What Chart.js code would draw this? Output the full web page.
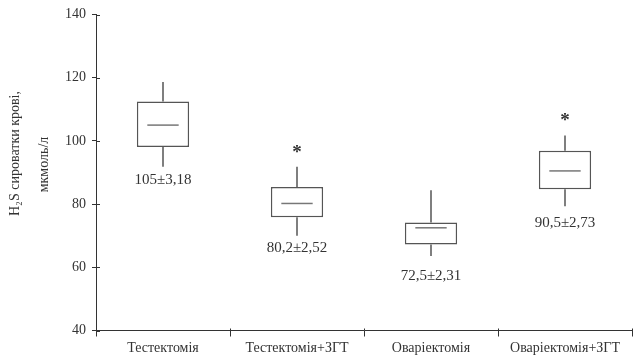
<!DOCTYPE html>
<html>
<head>
<meta charset="utf-8">
<script src="https://cdn.jsdelivr.net/npm/chart.js@4.4.1/dist/chart.umd.min.js"></script>
<style>
  html, body { margin: 0; padding: 0; background: #fff; }
  #wrap { width: 636px; height: 356px; }
</style>
</head>
<body>
<div id="wrap"><canvas id="c" width="636" height="356"></canvas></div>
<script>
// Group names
const categories = ['Тестектомія', 'Тестектомія+ЗГТ', 'Оваріектомія', 'Оваріектомія+ЗГТ'];
// Box statistics, мкмоль/л
const whiskerLow  = [91.8, 70.0, 63.6, 79.3];
const boxLow      = [98.1, 75.8, 67.2, 84.7];
const means       = [105, 80.2, 72.5, 90.5];
const boxHigh     = [112.5, 85.4, 74.2, 96.9];
const whiskerHigh = [118.6, 91.8, 84.4, 101.7];
const sem         = [3.18, 2.52, 2.31, 2.73];
// Groups marked with an asterisk
const significant = [false, true, false, true];
// Y axis ticks and title lines
const yTicks = [40, 60, 80, 100, 120, 140];
const yTitle = ['H₂S сироватки крові,', 'мкмоль/л'];

const FONT = '"Liberation Serif", "DejaVu Serif", serif';
const INK = '#333';
const BOX = '#555';

const fmt = v => String(v).replace('.', ',');
const meanLabels = means.map((m, i) => fmt(m) + '±' + fmt(sem[i]));
// Gap (px) between lower whisker end and the value label
const labelGap = [13, 12, 20, 17];

const boxPlugin = {
  id: 'boxParts',
  afterDatasetsDraw(chart) {
    const ctx = chart.ctx;
    const y = chart.scales.y;
    const meta = chart.getDatasetMeta(0);
    ctx.save();
    meta.data.forEach((bar, i) => {
      const x = bar.x;
      const w = bar.width;
      ctx.strokeStyle = BOX;
      ctx.lineWidth = 1.5;
      ctx.beginPath();
      ctx.moveTo(x, y.getPixelForValue(boxHigh[i]));
      ctx.lineTo(x, y.getPixelForValue(whiskerHigh[i]));
      ctx.moveTo(x, y.getPixelForValue(boxLow[i]));
      ctx.lineTo(x, y.getPixelForValue(whiskerLow[i]));
      ctx.stroke();
      // centre line at the mean
      ctx.strokeStyle = '#777';
      ctx.beginPath();
      const ym = y.getPixelForValue(means[i]);
      ctx.moveTo(x - w * 0.3, ym);
      ctx.lineTo(x + w * 0.3, ym);
      ctx.stroke();
      // value label
      ctx.fillStyle = INK;
      ctx.font = '15px ' + FONT;
      ctx.textAlign = 'center';
      ctx.textBaseline = 'middle';
      ctx.fillText(meanLabels[i], x, y.getPixelForValue(whiskerLow[i]) + labelGap[i]);
      if (significant[i]) {
        ctx.font = 'bold 19px ' + FONT;
        ctx.fillText('*', x, y.getPixelForValue(whiskerHigh[i]) - 14);
      }
    });
    // y tick marks crossing the axis
    const left = chart.chartArea.left;
    ctx.strokeStyle = INK;
    ctx.lineWidth = 1;
    ctx.beginPath();
    yTicks.forEach(t => {
      const py = Math.round(y.getPixelForValue(t)) + 0.5;
      ctx.moveTo(left, py);
      ctx.lineTo(left + 4, py);
    });
    // x tick marks reaching slightly above the axis
    const xs = chart.scales.x;
    const bottom = chart.chartArea.bottom;
    for (let k = 0; k <= categories.length; k++) {
      const px = Math.round(xs.left + (xs.right - xs.left) * k / categories.length) + 0.5;
      ctx.moveTo(px, bottom);
      ctx.lineTo(px, bottom - 2);
    }
    ctx.stroke();
    // rotated y axis title, two lines
    const midY = (chart.chartArea.top + chart.chartArea.bottom) / 2;
    ctx.fillStyle = INK;
    ctx.font = '14px ' + FONT;
    ctx.textAlign = 'center';
    ctx.textBaseline = 'middle';
    [[15, midY - 19], [44, midY - 8]].forEach((p, k) => {
      ctx.save();
      ctx.translate(p[0], p[1]);
      ctx.rotate(-Math.PI / 2);
      ctx.fillText(yTitle[k], 0, 0);
      ctx.restore();
    });
    ctx.restore();
  }
};

new Chart(document.getElementById('c'), {
  type: 'bar',
  data: {
    labels: categories,
    datasets: [{
      data: boxLow.map((lo, i) => [lo, boxHigh[i]]),
      backgroundColor: '#fff',
      borderColor: BOX,
      borderWidth: 1.5,
      borderSkipped: false,
      barPercentage: 0.39,
      categoryPercentage: 1
    }]
  },
  options: {
    responsive: false,
    animation: false,
    layout: { padding: { top: 14.5, right: 4, bottom: 0, left: 0 } },
    plugins: { legend: { display: false }, tooltip: { enabled: false } },
    scales: {
      x: {
        afterFit(scale) { scale.height = 25.5; },
        grid: { drawOnChartArea: false, drawTicks: true, tickLength: 6, color: INK, offset: true },
        border: { display: true, color: INK, width: 1 },
        ticks: { color: INK, font: { family: FONT, size: 14 }, padding: 3, maxRotation: 0 }
      },
      y: {
        min: 40,
        max: 140,
        afterBuildTicks(scale) { scale.ticks = yTicks.map(v => ({ value: v })); },
        afterFit(scale) { scale.width = 96; },
        grid: { drawOnChartArea: false, drawTicks: true, tickLength: 4, color: INK },
        border: { display: true, color: INK, width: 1 },
        ticks: { color: INK, font: { family: FONT, size: 14 }, padding: 6 }
      }
    }
  },
  plugins: [boxPlugin]
});
</script>
</body>
</html>
